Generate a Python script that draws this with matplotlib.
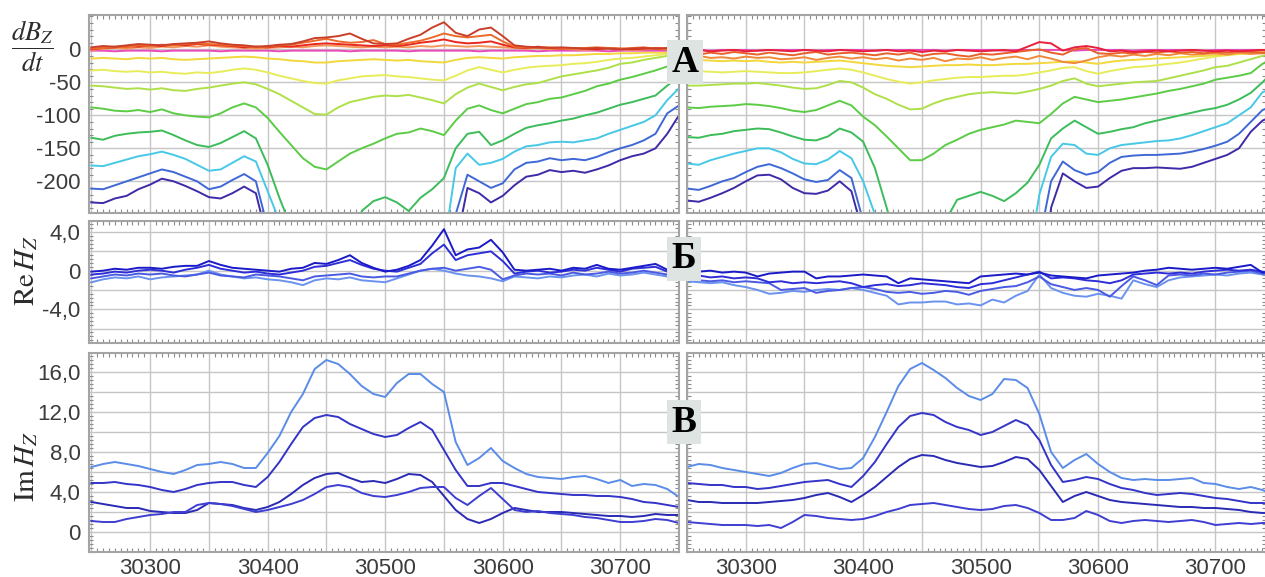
import numpy as np
import matplotlib
matplotlib.use('Agg')
import matplotlib.pyplot as plt
from matplotlib.ticker import MultipleLocator, FixedLocator, FuncFormatter

plt.rcParams['font.family'] = ['Liberation Sans', 'DejaVu Sans']
plt.rcParams['mathtext.fontset'] = 'stix'
plt.rcParams['axes.unicode_minus'] = False

# profile positions (picket), same sampling for every curve
x = np.arange(30250, 30751, 10)

# ---------------- dBz/dt, left profile ----------------
tl_indigo = [-232, -233, -226, -222, -212, -205, -196, -200, -207, -215,
             -224, -226, -218, -208, -218, -290, -400, -400, -400, -400,
             -400, -400, -400, -400, -400, -400, -400, -400, -400, -400,
             -400, -300, -210, -218, -232, -222, -206, -193, -190, -183,
             -186, -184, -187, -182, -176, -168, -162, -158, -150, -128,
             -100]
tl_blue = [-211, -212, -206, -200, -194, -188, -182, -186, -193, -200,
           -212, -208, -198, -189, -200, -270, -400, -400, -400, -400,
           -400, -400, -400, -400, -400, -400, -400, -400, -400, -400,
           -400, -250, -190, -200, -210, -203, -182, -172, -170, -165,
           -168, -166, -168, -163, -156, -150, -145, -138, -128, -97,
           -85]
tl_cyan = [-176, -177, -172, -167, -162, -159, -155, -160, -166, -175,
           -184, -182, -172, -162, -170, -215, -260, -400, -400, -400,
           -400, -400, -400, -400, -400, -400, -400, -400, -400, -400,
           -300, -180, -158, -175, -172, -166, -155, -147, -145, -141,
           -140, -141, -138, -135, -128, -122, -116, -110, -100, -77,
           -59]
tl_green2 = [-134, -137, -131, -128, -126, -125, -123, -130, -138, -145,
             -148, -142, -133, -124, -135, -175, -225, -270, -330, -400,
             -400, -400, -400, -245, -230, -224, -232, -245, -225, -212,
             -195, -150, -128, -125, -145, -138, -128, -119, -115, -112,
             -108, -105, -100, -96, -90, -84, -80, -75, -70, -55,
             -42]
tl_green1 = [-88, -90, -93, -94, -92, -95, -91, -97, -100, -102,
             -103, -97, -88, -82, -88, -104, -125, -145, -165, -178,
             -182, -170, -158, -150, -143, -135, -128, -126, -120, -124,
             -130, -108, -90, -85, -92, -97, -90, -83, -80, -75,
             -73, -68, -63, -56, -52, -46, -42, -37, -32, -26,
             -21]
tl_ygreen = [-55, -56, -58, -60, -59, -61, -59, -62, -63, -60,
             -58, -55, -52, -50, -53, -60, -68, -78, -88, -98,
             -99, -88, -80, -76, -72, -70, -71, -69, -73, -77,
             -82, -68, -58, -52, -57, -62, -57, -53, -51, -46,
             -41, -38, -35, -32, -28, -22, -20, -16, -13, -10,
             -8]
tl_yellow2 = [-32, -31, -33, -34, -33, -35, -34, -36, -37, -35,
              -36, -34, -31, -29, -31, -35, -40, -44, -48, -51,
              -52, -47, -44, -41, -40, -39, -41, -42, -44, -46,
              -47, -40, -32, -27, -31, -35, -31, -28, -26, -25,
              -24, -22, -21, -19, -16, -14, -13, -11, -9, -7,
              -6]
tl_yellow1 = [-14, -13, -14, -15, -13, -14, -13, -15, -16, -15,
              -14, -13, -12, -11, -12, -14, -15, -17, -18, -20,
              -20, -18, -17, -16, -15, -16, -17, -16, -18, -19,
              -20, -16, -13, -12, -13, -14, -12, -11, -10, -10,
              -9, -9, -8, -7, -7, -6, -6, -5, -5, -5,
              -5]
tl_pink = [-2, -2, -3, -2, -2, -2, -3, -2, -2, -2,
           -2, -3, -2, -2, -2, -2, -3, -2, -2, -2,
           -2, -2, -3, -2, -2, -2, -2, -3, -2, -2,
           -2, -2, -2, -3, -2, -2, -2, -2, -3, -2,
           -2, -2, -2, -2, -3, -2, -2, -2, -2, -2,
           -2]
tl_red1 = [3, 5, 4, 6, 8, 7, 6, 8, 9, 10,
           12, 9, 7, 6, 4, 5, 7, 8, 12, 17,
           18, 20, 24, 16, 9, 8, 9, 16, 22, 33,
           41, 25, 20, 30, 33, 20, 6, 4, 3, 2,
           3, 2, 1, 2, 1, 0, 1, 2, 1, 2,
           1]
tl_red2 = [1, 2, 4, 3, 6, 5, 7, 6, 8, 9,
           8, 7, 6, 5, 3, 4, 6, 7, 10, 13,
           16, 12, 10, 11, 14, 8, 7, 10, 13, 18,
           24, 20, 18, 20, 22, 12, 4, 3, 2, 3,
           2, 1, 2, 3, 2, 1, 2, 3, 1, 0,
           1]
tl_red3 = [0, 2, 3, 5, 4, 6, 5, 7, 6, 8,
           7, 6, 5, 3, 4, 3, 5, 4, 6, 8,
           9, 8, 7, 6, 5, 6, 5, 7, 10, 12,
           15, 11, 9, 10, 12, 7, 3, 2, 4, 2,
           1, 2, 1, 0, 2, 1, 0, 1, 2, 1,
           0]
tl_red4 = [-1, 1, 2, 1, 3, 2, 4, 3, 5, 4,
           6, 4, 3, 2, 1, 2, 3, 4, 3, 5,
           6, 5, 4, 3, 4, 3, 4, 3, 5, 4,
           6, 5, 4, 5, 4, 3, 2, 1, 2, 0,
           1, 0, -1, 0, 1, 0, -1, 0, 1, 0,
           -1]

# ---------------- dBz/dt, right profile ----------------
tr_indigo = [-229, -231, -225, -218, -210, -200, -191, -190, -197, -210,
             -218, -219, -214, -200, -215, -280, -400, -400, -400, -400,
             -400, -400, -400, -400, -400, -400, -400, -400, -400, -400,
             -400, -240, -188, -200, -210, -208, -195, -184, -180, -180,
             -179, -180, -181, -178, -172, -166, -160, -150, -125, -108,
             -100]
tr_blue = [-211, -213, -207, -200, -195, -186, -178, -174, -180, -188,
           -197, -201, -198, -183, -195, -260, -400, -400, -400, -400,
           -400, -400, -400, -400, -400, -400, -400, -400, -400, -400,
           -290, -200, -170, -183, -190, -186, -172, -163, -161, -160,
           -160, -159, -158, -155, -151, -146, -140, -128, -110, -92,
           -85]
tr_cyan = [-173, -175, -168, -163, -158, -154, -150, -150, -156, -166,
           -173, -174, -167, -154, -165, -200, -250, -400, -400, -400,
           -400, -400, -400, -400, -400, -400, -400, -400, -400, -330,
           -220, -163, -143, -145, -158, -160, -150, -145, -143, -141,
           -139, -138, -135, -130, -124, -118, -112, -100, -88, -65,
           -58]
tr_green2 = [-133, -134, -130, -128, -124, -122, -120, -121, -126, -132,
             -137, -138, -132, -120, -126, -140, -180, -240, -300, -400,
             -400, -320, -260, -228, -222, -216, -222, -230, -218, -202,
             -175, -135, -120, -108, -118, -128, -125, -121, -118, -112,
             -108, -104, -100, -96, -92, -89, -84, -76, -66, -50,
             -32]
tr_green1 = [-88, -89, -87, -86, -85, -83, -84, -86, -89, -93,
             -95, -92, -85, -78, -85, -102, -115, -132, -150, -168,
             -168, -158, -145, -137, -128, -122, -118, -114, -108, -110,
             -112, -98, -82, -72, -76, -80, -78, -76, -73, -70,
             -67, -63, -60, -56, -52, -46, -43, -40, -36, -22,
             -12]
tr_ygreen = [-55, -55, -54, -53, -52, -52, -51, -53, -55, -58,
             -60, -59, -54, -48, -50, -58, -68, -75, -84, -91,
             -90, -82, -76, -72, -68, -66, -65, -66, -67, -64,
             -60, -55, -48, -44, -52, -56, -54, -52, -50, -49,
             -48, -44, -40, -36, -32, -27, -25, -20, -15, -10,
             -6]
tr_yellow2 = [-32, -33, -34, -35, -34, -33, -34, -35, -36, -36,
              -35, -33, -31, -29, -31, -35, -40, -45, -49, -52,
              -50, -47, -45, -43, -42, -42, -41, -40, -40, -38,
              -35, -32, -28, -27, -33, -37, -33, -30, -27, -26,
              -24, -22, -20, -17, -14, -11, -9, -7, -5, -4,
              -3]
tr_yellow1 = [-17, -16, -17, -18, -17, -18, -17, -19, -20, -19,
              -20, -19, -18, -17, -19, -21, -23, -25, -26, -27,
              -26, -25, -24, -24, -23, -24, -24, -23, -22, -22,
              -21, -20, -19, -18, -20, -22, -19, -17, -16, -15,
              -14, -13, -12, -11, -10, -9, -8, -7, -6, -5,
              -4]
tr_orange1 = [-12, -10, -13, -12, -14, -11, -13, -12, -15, -14,
              -12, -16, -13, -11, -14, -12, -15, -13, -17, -14,
              -16, -13, -18, -14, -15, -12, -16, -13, -11, -15,
              -10, -14, -19, -21, -17, -12, -9, -11, -8, -10,
              -7, -9, -6, -8, -7, -6, -8, -5, -7, -6,
              -5]
tr_orange2 = [-6, -8, -5, -7, -4, -6, -8, -5, -7, -9,
              -6, -4, -8, -6, -5, -7, -9, -6, -8, -5,
              -10, -7, -6, -9, -11, -7, -8, -6, -4, -2,
              0, -5, -8, 0, 2, -6, -7, -5, -6, -4,
              -5, -3, -5, -4, -6, -4, -5, -3, -4, -5,
              -4]
tr_red = [-2, -1, -3, -2, -1, -3, -2, -1, -2, -3,
          -1, -2, -3, -1, -2, -3, -2, -1, -3, -2,
          -4, -2, -3, -1, -2, -3, -2, -1, -3, 4,
          11, 9, -2, 3, 5, 2, -3, -2, -4, -3,
          -2, -3, -2, -1, -2, -3, -2, -3, -2, -1,
          -2]
tr_pink = [-1, -1, -2, -1, -1, -1, -2, -1, -1, -1,
           -1, -2, -1, -1, -1, -1, -2, -1, -1, -1,
           -1, -1, -2, -1, -1, -1, -1, -2, -1, -1,
           -1, -1, -1, -2, -1, -1, -1, -1, -2, -1,
           -1, -1, -1, -1, -2, -1, -1, -1, -1, -1,
           -1]

# ---------------- Re Hz ----------------
ml_1 = [-0.1, 0.0, 0.2, 0.1, 0.3, 0.3, 0.2, 0.4, 0.5, 0.5,
        1.0, 0.6, 0.3, 0.2, 0.1, 0.0, -0.1, 0.2, 0.3, 0.8,
        0.7, 1.1, 1.6, 0.8, 0.3, -0.1, 0.1, 0.5, 1.1, 2.6,
        4.3, 1.6, 2.2, 2.4, 3.2, 1.9, 0.1, 0.0, 0.1, 0.2,
        0.0, 0.3, 0.2, 0.6, 0.2, 0.1, 0.3, 0.5, 0.7, 0.1,
        0.2]
ml_2 = [-0.4, -0.3, -0.1, -0.2, 0.0, 0.1, 0.0, -0.2, 0.1, 0.3,
        0.6, 0.2, 0.0, -0.2, -0.1, -0.3, -0.4, -0.2, 0.0, 0.4,
        0.5, 0.8, 1.1, 0.6, 0.2, 0.0, -0.1, 0.3, 0.7, 1.8,
        2.7, 1.1, 1.6, 1.8, 2.0, 1.0, -0.3, -0.1, 0.0, -0.2,
        -0.1, 0.1, 0.0, 0.3, 0.1, -0.1, 0.2, 0.3, 0.4, -0.1,
        0.0]
ml_3 = [-0.8, -0.6, -0.4, -0.5, -0.3, -0.4, -0.3, -0.5, -0.6, -0.4,
        -0.2, -0.5, -0.6, -0.7, -0.4, -0.5, -0.6, -0.8, -1.0, -0.6,
        -0.5, -0.4, -0.3, -0.6, -0.7, -0.6, -0.6, -0.3, 0.0, 0.2,
        0.3, 0.0, 0.2, 0.4, 0.1, -0.9, -0.5, -0.3, -0.4, -0.3,
        -0.5, -0.2, -0.4, -0.3, -0.1, -0.3, -0.2, 0.0, -0.2, -0.4,
        -0.2]
ml_4 = [-1.2, -0.9, -0.7, -0.8, -0.6, -0.9, -0.7, -0.6, -0.5, -0.4,
        0.0, -0.4, -0.6, -0.8, -0.7, -0.9, -1.0, -1.2, -1.5, -1.0,
        -0.8, -0.9, -0.7, -1.0, -1.1, -1.2, -0.8, -0.4, 0.0, 0.2,
        0.0, -0.3, -0.5, -0.6, -0.8, -1.1, -0.6, -0.7, -0.8, -0.6,
        -0.7, -0.5, -0.4, -0.6, -0.3, -0.5, -0.4, -0.2, -0.4, -0.6,
        -0.5]

mr_1 = [-0.2, -0.1, 0.0, -0.2, -0.1, -0.2, -0.6, -0.3, -0.2, -0.1,
        -0.1, -0.8, -0.6, -0.6, -0.5, -0.4, -0.5, -0.6, -1.3, -0.8,
        -0.9, -1.0, -1.1, -1.2, -1.3, -0.6, -0.5, -0.4, -0.3, -0.4,
        -0.2, -0.5, -0.6, -0.7, -0.8, -0.5, -0.4, -0.3, -0.2, 0.0,
        0.1, 0.3, 0.2, 0.1, 0.2, 0.3, 0.2, 0.4, 0.6, -0.2,
        -0.2]
mr_2 = [-0.6, -0.5, -0.7, -0.6, -0.8, -0.7, -0.8, -1.2, -1.1, -1.3,
        -1.2, -1.3, -1.2, -1.1, -1.3, -1.7, -1.5, -1.4, -1.6, -1.5,
        -1.3, -1.4, -1.5, -1.7, -1.8, -1.4, -1.3, -1.0, -0.7, -0.4,
        -0.1, -0.8, -0.7, -0.8, -1.0, -1.1, -1.3, -1.0, -0.4, -0.3,
        -0.2, -0.3, -0.2, -0.3, -0.1, 0.0, 0.1, 0.0, 0.1, -0.1,
        -0.2]
mr_3 = [-0.9, -1.0, -1.1, -1.0, -1.2, -1.1, -1.2, -1.3, -2.0, -1.9,
        -1.8, -2.3, -2.1, -2.0, -1.8, -1.7, -1.9, -2.2, -2.3, -2.2,
        -2.4, -2.3, -2.1, -2.2, -2.5, -2.1, -1.9, -1.7, -1.6, -1.2,
        -0.6, -1.4, -1.7, -2.0, -1.8, -2.0, -2.7, -1.6, -0.6, -1.0,
        -1.5, -0.5, -0.4, -0.5, -0.3, -0.4, -0.2, -0.1, 0.0, -0.3,
        -0.2]
mr_4 = [-1.1, -1.2, -1.3, -1.2, -1.5, -1.7, -2.0, -2.4, -2.3, -2.1,
        -2.2, -2.0, -1.9, -2.0, -1.8, -2.0, -2.3, -2.6, -3.5, -3.3,
        -3.3, -3.2, -3.2, -3.5, -3.4, -3.6, -3.0, -3.3, -2.6, -2.1,
        -0.4, -1.8, -2.3, -2.6, -2.7, -2.4, -2.6, -2.9, -1.0, -1.4,
        -1.7, -1.0, -0.7, -0.6, -0.5, -0.4, -0.5, -0.3, -0.2, -0.4,
        -0.3]

# ---------------- Im Hz ----------------
bl_1 = [6.5, 6.8, 7.0, 6.8, 6.6, 6.3, 6.0, 5.8, 6.2, 6.7,
        6.8, 7.0, 6.8, 6.4, 6.4, 7.9, 9.6, 12.0, 13.8, 16.3,
        17.2, 16.8, 15.8, 14.6, 13.8, 13.5, 14.9, 15.8, 15.8, 14.8,
        14.0, 9.0, 6.7, 7.4, 8.4, 7.1, 6.4, 5.8, 5.5, 5.4,
        5.3, 5.5, 5.6, 5.3, 4.9, 5.2, 4.6, 4.8, 4.7, 4.3,
        3.5]
bl_2 = [4.9, 4.9, 5.0, 4.8, 4.7, 4.5, 4.2, 4.0, 4.3, 4.7,
        4.9, 5.0, 5.0, 4.7, 4.5, 5.5, 7.0, 8.8, 10.5, 11.4,
        11.7, 11.5, 10.8, 10.3, 9.8, 9.5, 9.7, 10.4, 11.0, 10.2,
        8.2, 6.2, 4.6, 4.6, 4.9, 4.9, 4.6, 4.3, 4.0, 3.9,
        3.8, 3.7, 3.7, 3.6, 3.6, 3.5, 3.3, 3.0, 2.9, 2.7,
        2.5]
bl_3 = [3.0, 2.8, 2.6, 2.4, 2.4, 2.1, 2.0, 1.9, 1.9, 2.2,
        2.9, 2.8, 2.7, 2.4, 2.2, 2.5, 3.0, 3.8, 4.7, 5.4,
        5.8, 5.9, 5.4, 5.0, 5.1, 4.9, 5.3, 5.8, 5.7, 5.0,
        3.6, 2.2, 1.3, 0.9, 1.3, 1.9, 2.4, 2.2, 2.0, 2.0,
        2.0, 1.9, 1.8, 1.7, 1.6, 1.6, 1.5, 1.6, 1.8, 1.7,
        1.7]
bl_4 = [1.1, 1.0, 1.0, 1.3, 1.5, 1.7, 1.8, 2.0, 2.0, 2.7,
        2.9, 2.8, 2.6, 2.3, 2.0, 2.2, 2.5, 2.8, 3.2, 3.8,
        4.5, 4.7, 4.5, 3.9, 3.6, 3.5, 3.7, 4.0, 4.4, 4.5,
        4.5, 3.4, 2.7, 3.6, 4.4, 3.3, 2.2, 2.0, 2.1, 1.9,
        1.8, 1.7, 1.5, 1.4, 1.2, 1.0, 1.0, 1.1, 1.3, 1.2,
        0.9]

br_1 = [6.5, 6.8, 6.7, 6.4, 6.2, 6.0, 5.8, 5.6, 5.9, 6.4,
        6.8, 6.9, 6.6, 6.3, 6.4, 7.4, 9.5, 12.0, 14.6, 16.3,
        16.9, 16.2, 15.4, 14.4, 13.6, 13.2, 13.8, 15.3, 15.2, 14.4,
        11.8, 8.0, 6.4, 7.2, 7.8, 6.8, 6.0, 5.4, 5.2, 5.3,
        5.2, 5.2, 5.3, 5.4, 4.9, 4.8, 4.5, 4.3, 4.5, 4.2,
        3.7]
br_2 = [4.9, 4.8, 4.7, 4.7, 4.5, 4.5, 4.3, 4.4, 4.6, 4.8,
        5.0, 5.1, 5.2, 4.8, 4.5, 5.6, 7.0, 8.8, 10.5, 11.6,
        11.9, 11.7, 11.0, 10.5, 10.2, 9.7, 10.0, 10.6, 11.2, 10.7,
        9.2, 6.7, 5.0, 5.2, 5.5, 5.3, 4.8, 4.4, 4.2, 3.9,
        3.7, 3.8, 3.9, 3.8, 3.6, 3.4, 3.3, 3.1, 2.9, 2.9,
        2.8]
br_3 = [3.2, 3.0, 3.0, 2.9, 2.9, 2.9, 2.9, 3.0, 3.1, 3.2,
        3.4, 3.7, 3.9, 3.5, 3.0, 3.7, 4.5, 5.5, 6.5, 7.3,
        7.7, 7.6, 7.2, 6.9, 6.7, 6.5, 6.6, 7.0, 7.5, 7.3,
        6.2, 4.6, 3.0, 3.6, 4.0, 3.6, 3.2, 3.0, 2.9, 2.8,
        2.7, 2.6, 2.5, 2.5, 2.4, 2.4, 2.3, 2.2, 2.0, 1.9,
        1.9]
br_4 = [1.0, 0.9, 0.8, 0.7, 0.7, 0.7, 0.6, 0.7, 0.4, 1.0,
        1.7, 1.6, 1.4, 1.3, 1.2, 1.3, 1.6, 2.0, 2.3, 2.7,
        2.8, 2.9, 2.7, 2.5, 2.3, 2.2, 2.3, 2.6, 2.7, 2.4,
        1.9, 1.2, 1.2, 1.4, 2.1, 1.7, 1.1, 0.9, 1.1, 1.2,
        1.1, 1.0, 1.1, 1.2, 1.0, 0.7, 0.8, 0.9, 0.8, 0.9,
        0.9]

# colours
c_indigo, c_blue, c_cyan = '#3f2aa8', '#3f68d6', '#46c8e6'
c_green2, c_green1, c_ygreen = '#3cbc5a', '#5ccc46', '#aee04a'
c_yellow2, c_yellow1 = '#e8ec5a', '#f2d83c'
c_pink = '#e84ab8'
c_reds = ['#c8402a', '#ec6a2a', '#e8281e', '#f4965a']
c_im = ['#5a8ce8', '#3434c8', '#2a2ab4', '#3e3ed2']
c_re = ['#1a1ac8', '#2e2ed8', '#4a5ae2', '#6a92ee']

W, H = 1265, 577


def box(l, t, r, b):
    return [l / W, 1 - b / H, (r - l) / W, (b - t) / H]


def comma(v):
    if abs(v) < 1e-9:
        return '0'
    return ('%.1f' % v).replace('.', ',')


def style(ax, xlim, ylim, yticks, ylabel_fn, show_x, show_y):
    ax.set_xlim(*xlim)
    ax.set_ylim(*ylim)
    ax.xaxis.set_major_locator(MultipleLocator(50))
    ax.xaxis.set_minor_locator(MultipleLocator(5))
    ax.yaxis.set_major_locator(FixedLocator(yticks))
    step = abs(yticks[1] - yticks[0]) / 5.0
    ax.yaxis.set_minor_locator(MultipleLocator(step))
    ax.grid(True, which='major', color='#c6c6c6', lw=1.0)
    ax.set_axisbelow(True)
    ax.tick_params(which='both', direction='in', colors='#8c8c8c',
                   top=True, right=True, labelcolor='#3c3c3c', labelsize=16)
    ax.tick_params(which='major', length=0, pad=6)
    ax.tick_params(which='minor', length=3, width=0.8)
    ax.tick_params(axis='x', pad=4)
    for s in ax.spines.values():
        s.set_color('#a4a4a4')
        s.set_linewidth(1.5)
    if show_x:
        ax.xaxis.set_major_formatter(FuncFormatter(
            lambda v, p: '%d' % v if int(round(v)) % 100 == 0 else ''))
    else:
        ax.set_xticklabels([])
    if show_y:
        ax.yaxis.set_major_formatter(FuncFormatter(lambda v, p: ylabel_fn(v)))
    else:
        ax.set_yticklabels([])


fig = plt.figure(figsize=(12.65, 5.77), dpi=100)

ax_tl = fig.add_axes(box(89, 15, 679, 213))
ax_tr = fig.add_axes(box(687, 15, 1266, 213))
ax_ml = fig.add_axes(box(89, 221, 679, 343))
ax_mr = fig.add_axes(box(687, 221, 1266, 343))
ax_bl = fig.add_axes(box(89, 353, 679, 552))
ax_br = fig.add_axes(box(687, 353, 1266, 552))

lw = 1.4

# dBz/dt panels
top_sets = [
    (ax_tl, [tl_indigo, tl_blue, tl_cyan, tl_green2, tl_green1, tl_ygreen,
             tl_yellow2, tl_yellow1], [tl_pink], [tl_red4, tl_red3, tl_red2, tl_red1]),
    (ax_tr, [tr_indigo, tr_blue, tr_cyan, tr_green2, tr_green1, tr_ygreen,
             tr_yellow2, tr_yellow1], [tr_pink], [tr_orange1, tr_orange2, tr_red]),
]
main_cols = [c_indigo, c_blue, c_cyan, c_green2, c_green1, c_ygreen, c_yellow2, c_yellow1]
for ax, mains, pinks, reds in top_sets:
    for y, c in zip(mains, main_cols):
        ax.plot(x, y, color=c, lw=lw)
    for y in pinks:
        ax.plot(x, y, color=c_pink, lw=lw)
    if ax is ax_tl:
        red_cols = [c_reds[3], c_reds[2], c_reds[1], c_reds[0]]
    else:
        red_cols = ['#f08a3a', '#e8602a', '#e8203c']
    for y, c in zip(reds, red_cols):
        ax.plot(x, y, color=c, lw=lw)

top_ticks = [0, -50, -100, -150, -200]
style(ax_tl, (30248, 30750), (-248, 52), top_ticks, lambda v: '%d' % v, False, True)
style(ax_tr, (30250, 30743), (-248, 52), top_ticks, lambda v: '%d' % v, False, False)

# Re Hz panels
for y, c in zip([ml_4, ml_3, ml_2, ml_1], c_re[::-1]):
    ax_ml.plot(x, y, color=c, lw=lw)
for y, c in zip([mr_4, mr_3, mr_2, mr_1], c_re[::-1]):
    ax_mr.plot(x, y, color=c, lw=lw)
re_ticks = [4, 2, 0, -2, -4, -6]
re_lab = lambda v: comma(v) if int(round(v)) % 4 == 0 else ''
style(ax_ml, (30248, 30750), (-7.5, 5.15), re_ticks, re_lab, False, True)
style(ax_mr, (30250, 30743), (-7.5, 5.15), re_ticks, re_lab, False, False)

# Im Hz panels
for y, c in zip([bl_1, bl_2, bl_3, bl_4], c_im):
    ax_bl.plot(x, y, color=c, lw=lw)
for y, c in zip([br_1, br_2, br_3, br_4], c_im):
    ax_br.plot(x, y, color=c, lw=lw)
im_ticks = [16, 14, 12, 10, 8, 6, 4, 2, 0]
im_lab = lambda v: comma(v) if int(round(v)) % 4 == 0 else ''
style(ax_bl, (30248, 30750), (-2.0, 17.9), im_ticks, im_lab, True, True)
style(ax_br, (30250, 30743), (-2.0, 17.9), im_ticks, im_lab, True, False)

# axis titles
fig.text(32 / W, 1 - 46 / H, r'$\dfrac{dB_Z}{dt}$', fontsize=19, ha='center', va='center',
         color='#2c2c2c')
fig.text(26 / W, 1 - 270 / H, r'$\mathrm{Re}\,H_Z$', fontsize=21, rotation=90,
         ha='center', va='center', color='#2c2c2c')
fig.text(26 / W, 1 - 466 / H, r'$\mathrm{Im}\,H_Z$', fontsize=21, rotation=90,
         ha='center', va='center', color='#2c2c2c')

# panel letters
for lab, cx, cy in [('A', 685, 62), ('Б', 684, 259), ('В', 684, 422)]:
    fig.text(cx / W, 1 - cy / H, lab, fontsize=27, fontweight='bold',
             family=['Liberation Serif', 'DejaVu Serif'], ha='center', va='center',
             bbox=dict(boxstyle='square,pad=0.12', fc='#dde4e2', ec='none'))

fig.savefig('out.png', dpi=100)
